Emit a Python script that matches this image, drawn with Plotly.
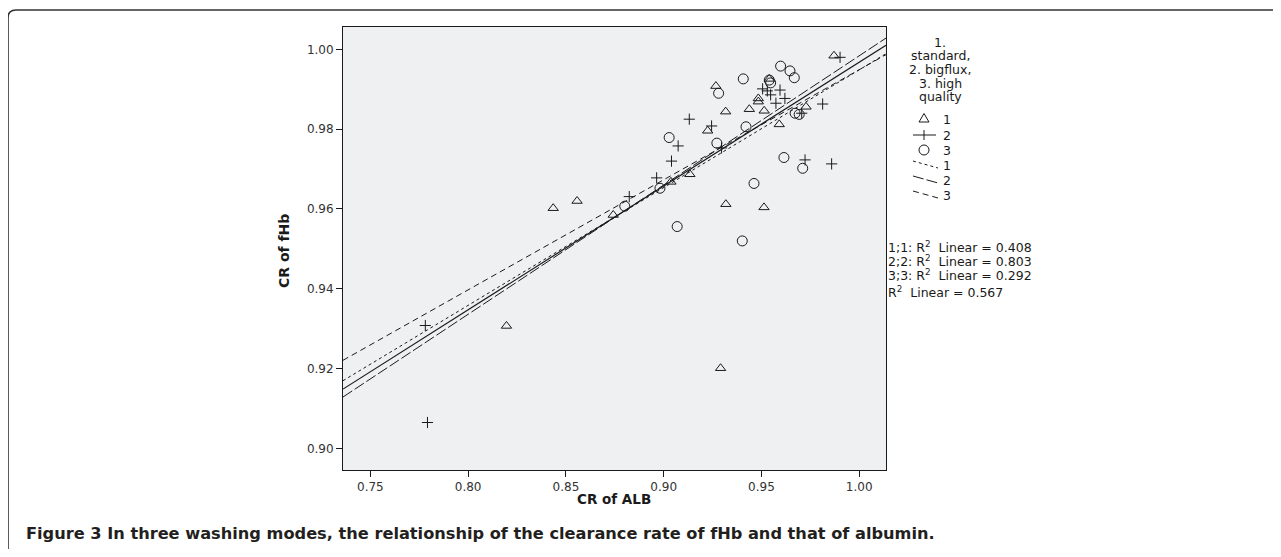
import numpy as np
import plotly.graph_objects as go

# ---- data ----
g1_x = [0.8435, 0.8557, 0.8742, 0.8196, 0.9291, 0.9037, 0.9134, 0.9318, 0.9513, 0.9225,
        0.9267, 0.9317, 0.9438, 0.9484, 0.9484, 0.9514, 0.9540, 0.9591, 0.9728, 0.9871]
g1_y = [0.9602, 0.9620, 0.9585, 0.9307, 0.9201, 0.9668, 0.9687, 0.9612, 0.9604, 0.9796,
        0.9908, 0.9844, 0.9850, 0.9877, 0.9869, 0.9846, 0.9926, 0.9812, 0.9856, 0.9984]

g2_x = [0.7781, 0.7792, 0.8824, 0.8964, 0.9040, 0.9074, 0.9131, 0.9245, 0.9296, 0.9506,
        0.9530, 0.9547, 0.9595, 0.9620, 0.9574, 0.9706, 0.9723, 0.9813, 0.9859, 0.9902]
g2_y = [0.9308, 0.9065, 0.9631, 0.9678, 0.9720, 0.9758, 0.9825, 0.9808, 0.9753, 0.9901,
        0.9896, 0.9886, 0.9898, 0.9877, 0.9865, 0.9840, 0.9723, 0.9863, 0.9713, 0.9980]

g3_x = [0.8801, 0.8981, 0.9028, 0.9069, 0.9281, 0.9272, 0.9407, 0.9421, 0.9462, 0.9540,
        0.9547, 0.9598, 0.9646, 0.9668, 0.9615, 0.9672, 0.9693, 0.9711, 0.9402]
g3_y = [0.9607, 0.9652, 0.9779, 0.9556, 0.9890, 0.9765, 0.9926, 0.9806, 0.9664, 0.9923,
        0.9916, 0.9958, 0.9946, 0.9929, 0.9729, 0.9840, 0.9837, 0.9702, 0.9520]

group_labels = ["1", "2", "3"]
legend_title_lines = ["1.", "standard,", "2. bigflux,", "3. high", "quality"]
r2_labels = ["1;1: R<sup>2</sup>  Linear = 0.408",
             "2;2: R<sup>2</sup>  Linear = 0.803",
             "3;3: R<sup>2</sup>  Linear = 0.292",
             "R<sup>2</sup>  Linear = 0.567"]
x_ticks = [0.75, 0.80, 0.85, 0.90, 0.95, 1.00]
y_ticks = [0.90, 0.92, 0.94, 0.96, 0.98, 1.00]
x_range = [0.736, 1.0137]
y_range = [0.8946, 1.0056]
x_title = "CR of ALB"
y_title = "CR of fHb"
caption = ("Figure 3 In three washing modes, the relationship of the clearance rate "
           "of fHb and that of albumin.")

# ---- layout geometry (page pixels) ----
OFF = 8                      # page body margin
W, H = 1265, 541             # figure size
L, R, T, B = 343, 886, 27, 470   # plot area in page pixels
INK = "#1a1a1a"
FONT = "DejaVu Sans"


def px_x(p):
    return (p - L) / (R - L)


def px_y(p):
    return (B - p) / (B - T)


fig = go.Figure()

symbols = ["triangle-up-open", "cross-thin-open", "circle-open"]
sizes = [9, 8, 10]
xs = [g1_x, g2_x, g3_x]
ys = [g1_y, g2_y, g3_y]
for i in range(3):
    fig.add_trace(go.Scatter(
        x=xs[i], y=ys[i], mode="markers", name=group_labels[i], showlegend=False,
        marker=dict(symbol=symbols[i], size=sizes[i], color=INK,
                    line=dict(width=1, color=INK)),
    ))

dashes = ["3px,3px", "11px,3px", "6px,4px"]
xx = np.array(x_range)
for i in range(3):
    k, b = np.polyfit(xs[i], ys[i], 1)
    fig.add_trace(go.Scatter(
        x=xx, y=k * xx + b, mode="lines", name=group_labels[i], showlegend=False,
        line=dict(color=INK, width=1, dash=dashes[i]),
    ))

all_x = g1_x + g2_x + g3_x
all_y = g1_y + g2_y + g3_y
k, b = np.polyfit(all_x, all_y, 1)
fig.add_trace(go.Scatter(
    x=xx, y=k * xx + b, mode="lines", showlegend=False,
    line=dict(color=INK, width=1.2),
))

axis_common = dict(
    showline=True, linecolor=INK, linewidth=1, mirror=True,
    ticks="outside", ticklen=6, tickcolor=INK, tickwidth=1,
    showgrid=False, zeroline=False,
    tickfont=dict(family=FONT, size=12, color="#333333"),
)
fig.update_xaxes(range=x_range, tickvals=x_ticks, tickformat=".2f", **axis_common)
fig.update_yaxes(range=y_range, tickvals=y_ticks, tickformat=".2f", **axis_common)

annotations = [
    dict(text="<b>" + x_title + "</b>", xref="paper", yref="paper",
         x=px_x(614), y=px_y(499), xanchor="center", yanchor="middle",
         showarrow=False, font=dict(family=FONT, size=13.5, color=INK)),
    dict(text="<b>" + y_title + "</b>", xref="paper", yref="paper", textangle=-90,
         x=px_x(284), y=px_y(251), xanchor="center", yanchor="middle",
         showarrow=False, font=dict(family=FONT, size=14, color=INK)),
    dict(text="<b>" + caption + "</b>", xref="paper", yref="paper",
         x=px_x(24), y=px_y(533), xanchor="left", yanchor="middle",
         showarrow=False, font=dict(family=FONT, size=16.2, color="#231f20")),
]

# R² labels
for t, py in zip(r2_labels, [247, 261, 275, 292]):
    annotations.append(dict(text=t, xref="paper", yref="paper",
                            x=px_x(886), y=px_y(py), xanchor="left", yanchor="middle",
                            showarrow=False, font=dict(family=FONT, size=12.5, color=INK)))

# legend title (centered lines)
for t, py in zip(legend_title_lines, [42, 55.5, 69, 83, 97]):
    annotations.append(dict(text=t, xref="paper", yref="paper",
                            x=px_x(940), y=px_y(py), xanchor="center", yanchor="middle",
                            showarrow=False, font=dict(family=FONT, size=12.5, color=INK)))

# legend labels
leg_rows = [119, 135, 150, 165, 180, 195]
for t, py in zip(group_labels + group_labels, leg_rows):
    annotations.append(dict(text=t, xref="paper", yref="paper",
                            x=px_x(941), y=px_y(py), xanchor="left", yanchor="middle",
                            showarrow=False, font=dict(family=FONT, size=12.5, color=INK)))

shapes = []
# outer frame: top line and left line with rounded corner
fx0, fy0 = px_x(8), px_y(10)
rx, ry = 8 / (R - L), 8 / (B - T)
frame_path = (f"M {px_x(OFF + W + 2)} {fy0} L {fx0 + rx} {fy0} "
              f"Q {fx0} {fy0} {fx0} {fy0 - ry} L {fx0} {px_y(OFF + H + 2)}")
shapes.append(dict(type="path", xref="paper", yref="paper", path=frame_path,
                   line=dict(color="#333333", width=1.6)))

# legend glyphs
gl = dict(color=INK, width=1)
cx = 924
ty = leg_rows[0] - 1
shapes.append(dict(type="path", xref="paper", yref="paper",
                   path=(f"M {px_x(cx - 5)} {px_y(ty + 4)} L {px_x(cx + 5)} {px_y(ty + 4)} "
                         f"L {px_x(cx)} {px_y(ty - 4.5)} Z"), line=gl))
py = leg_rows[1]
shapes.append(dict(type="line", xref="paper", yref="paper",
                   x0=px_x(913), x1=px_x(936), y0=px_y(py), y1=px_y(py), line=gl))
shapes.append(dict(type="line", xref="paper", yref="paper",
                   x0=px_x(cx), x1=px_x(cx), y0=px_y(py - 5), y1=px_y(py + 5), line=gl))
py = leg_rows[2]
shapes.append(dict(type="circle", xref="paper", yref="paper",
                   x0=px_x(cx - 5), x1=px_x(cx + 5), y0=px_y(py - 5), y1=px_y(py + 5), line=gl))
for i, py in enumerate(leg_rows[3:]):
    shapes.append(dict(type="line", xref="paper", yref="paper",
                       x0=px_x(913), x1=px_x(938), y0=px_y(py - 4), y1=px_y(py + 3),
                       line=dict(color=INK, width=1, dash=dashes[i])))

fig.update_layout(
    width=W, height=H,
    margin=dict(l=L - OFF, r=W - (R - OFF), t=T - OFF, b=H - (B - OFF), pad=0),
    paper_bgcolor="white", plot_bgcolor="#eff0f2",
    showlegend=False,
    annotations=annotations, shapes=shapes,
)

fig.write_html("out.html")
